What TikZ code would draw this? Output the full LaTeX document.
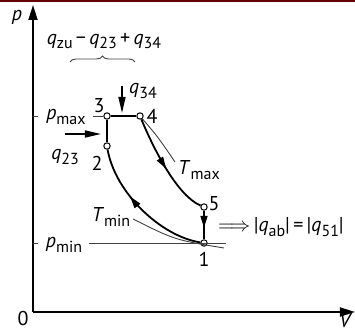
\documentclass[tikz,border=0pt]{standalone}
\usepackage{fontspec}
\setmainfont{PT Sans}
\usetikzlibrary{arrows.meta,decorations.markings,decorations.pathreplacing}
\definecolor{barred}{RGB}{100,0,0}
\newcommand{\idx}[2]{\textit{#1}\raisebox{-.45ex}{\footnotesize #2}}
\tikzset{
  state/.style={circle,draw,fill=white,inner sep=0pt,minimum size=3.2pt,line width=0.5pt},
  proc/.style={line width=0.9pt},
  aux/.style={line width=0.45pt,black!75},
  axisline/.style={line width=0.9pt,-{Triangle[length=7.5pt,width=4.5pt]}},
  heat/.style={line width=0.8pt,-{Triangle[length=8pt,width=3.5pt]}},
  midarrow/.style={postaction={decorate},decoration={markings,
    mark=at position #1 with {\arrow{Triangle[length=6pt,width=3.5pt]}}}},
}
\begin{document}
\begin{tikzpicture}[x=0.5pt,y=-0.5pt]
    \useasboundingbox (0,0) rectangle (355,331);
    \fill[barred] (0,0) rectangle (355,2.3);
    % axes
    \coordinate (O) at (33,312);
    \coordinate (ptip) at (33,5);
    \coordinate (Vtip) at (355,312);
    \draw[axisline] (O) -- (ptip);
    \draw[axisline] (O) -- (Vtip);
    \node (plab) at (17,17) {\textit{p}};
    \node (olab) at (23,319) {0};
    \node (Vlab) at (346,321) {\textit{V}};
    % states
    \node[state] (s1) at (204,243) {};
    \node[state] (s2) at (107,146) {};
    \node[state] (s3) at (107,116) {};
    \node[state] (s4) at (140,116) {};
    \node[state] (s5) at (204,207) {};
    \node (l1) at (204,259) {1};
    \node (l2) at (97,163) {2};
    \node (l3) at (99,106) {3};
    \node (l4) at (152,116) {4};
    \node (l5) at (214,204) {5};
    % pressure levels
    \coordinate (pmaxtick) at (38,116);
    \coordinate (pmintick) at (38,243);
    \coordinate (pminend) at (226,243);
    \draw[aux] (O |- s3) -- (pmaxtick);
    \draw[aux] (O |- s1) -- (pmintick);
    \node (pmax) at (66,117) {\idx{p}{max}};
    \node (pmin) at (64,245) {\idx{p}{min}};
    \draw[aux] (pmax.east |- s3) -- (s3);
    \draw[aux] (pmin.east |- s1) -- (pminend);
    % isotherms
    \coordinate (Tmaxend) at (175,162);
    \coordinate (Tminstart) at (133,219);
    \coordinate (Tminend) at (224,248);
    \draw[aux] (s4) .. controls (158,137) .. (Tmaxend);
    \draw[aux] (Tminstart) .. controls (175,240) .. (Tminend);
    \node (Tmax) at (199,170) {\idx{T}{max}};
    \node (Tmin) at (111,217) {\idx{T}{min}};
    % cycle
    \draw[proc] (s2) -- (s3);
    \draw[proc] (s3) -- (s4);
    \draw[proc,midarrow=0.52] (s4) .. controls (155,152) and (178,196) .. (s5);
    \draw[proc,midarrow=0.6] (s5) -- (s1);
    \draw[proc,midarrow=0.62] (s1) .. controls (160,236) and (115,192) .. (s2);
    % heat
    \coordinate (q23start) at (65,134);
    \coordinate (q23end) at (101,134);
    \coordinate (q34start) at (122,86);
    \coordinate (q34end) at (122,113);
    \draw[heat] (q23start) -- (q23end);
    \draw[heat] (q34start) -- (q34end);
    \node (q23) at (65,157) {\idx{q}{23}};
    \node (q34) at (143,91) {\idx{q}{34}};
    \node (qzu) at (104,41) {\idx{q}{zu}\,−\,\idx{q}{23}\,+\,\idx{q}{34}};
    \coordinate (braceL) at (70,62);
    \coordinate (braceR) at (135,62);
    \draw[aux,decorate,decoration={brace,amplitude=3pt}] (braceL) -- (braceR);
    \node (qab) at (281,227) {$\Longrightarrow$\,|\idx{q}{ab}|\,=\,|\idx{q}{51}|};
\end{tikzpicture}
\end{document}
